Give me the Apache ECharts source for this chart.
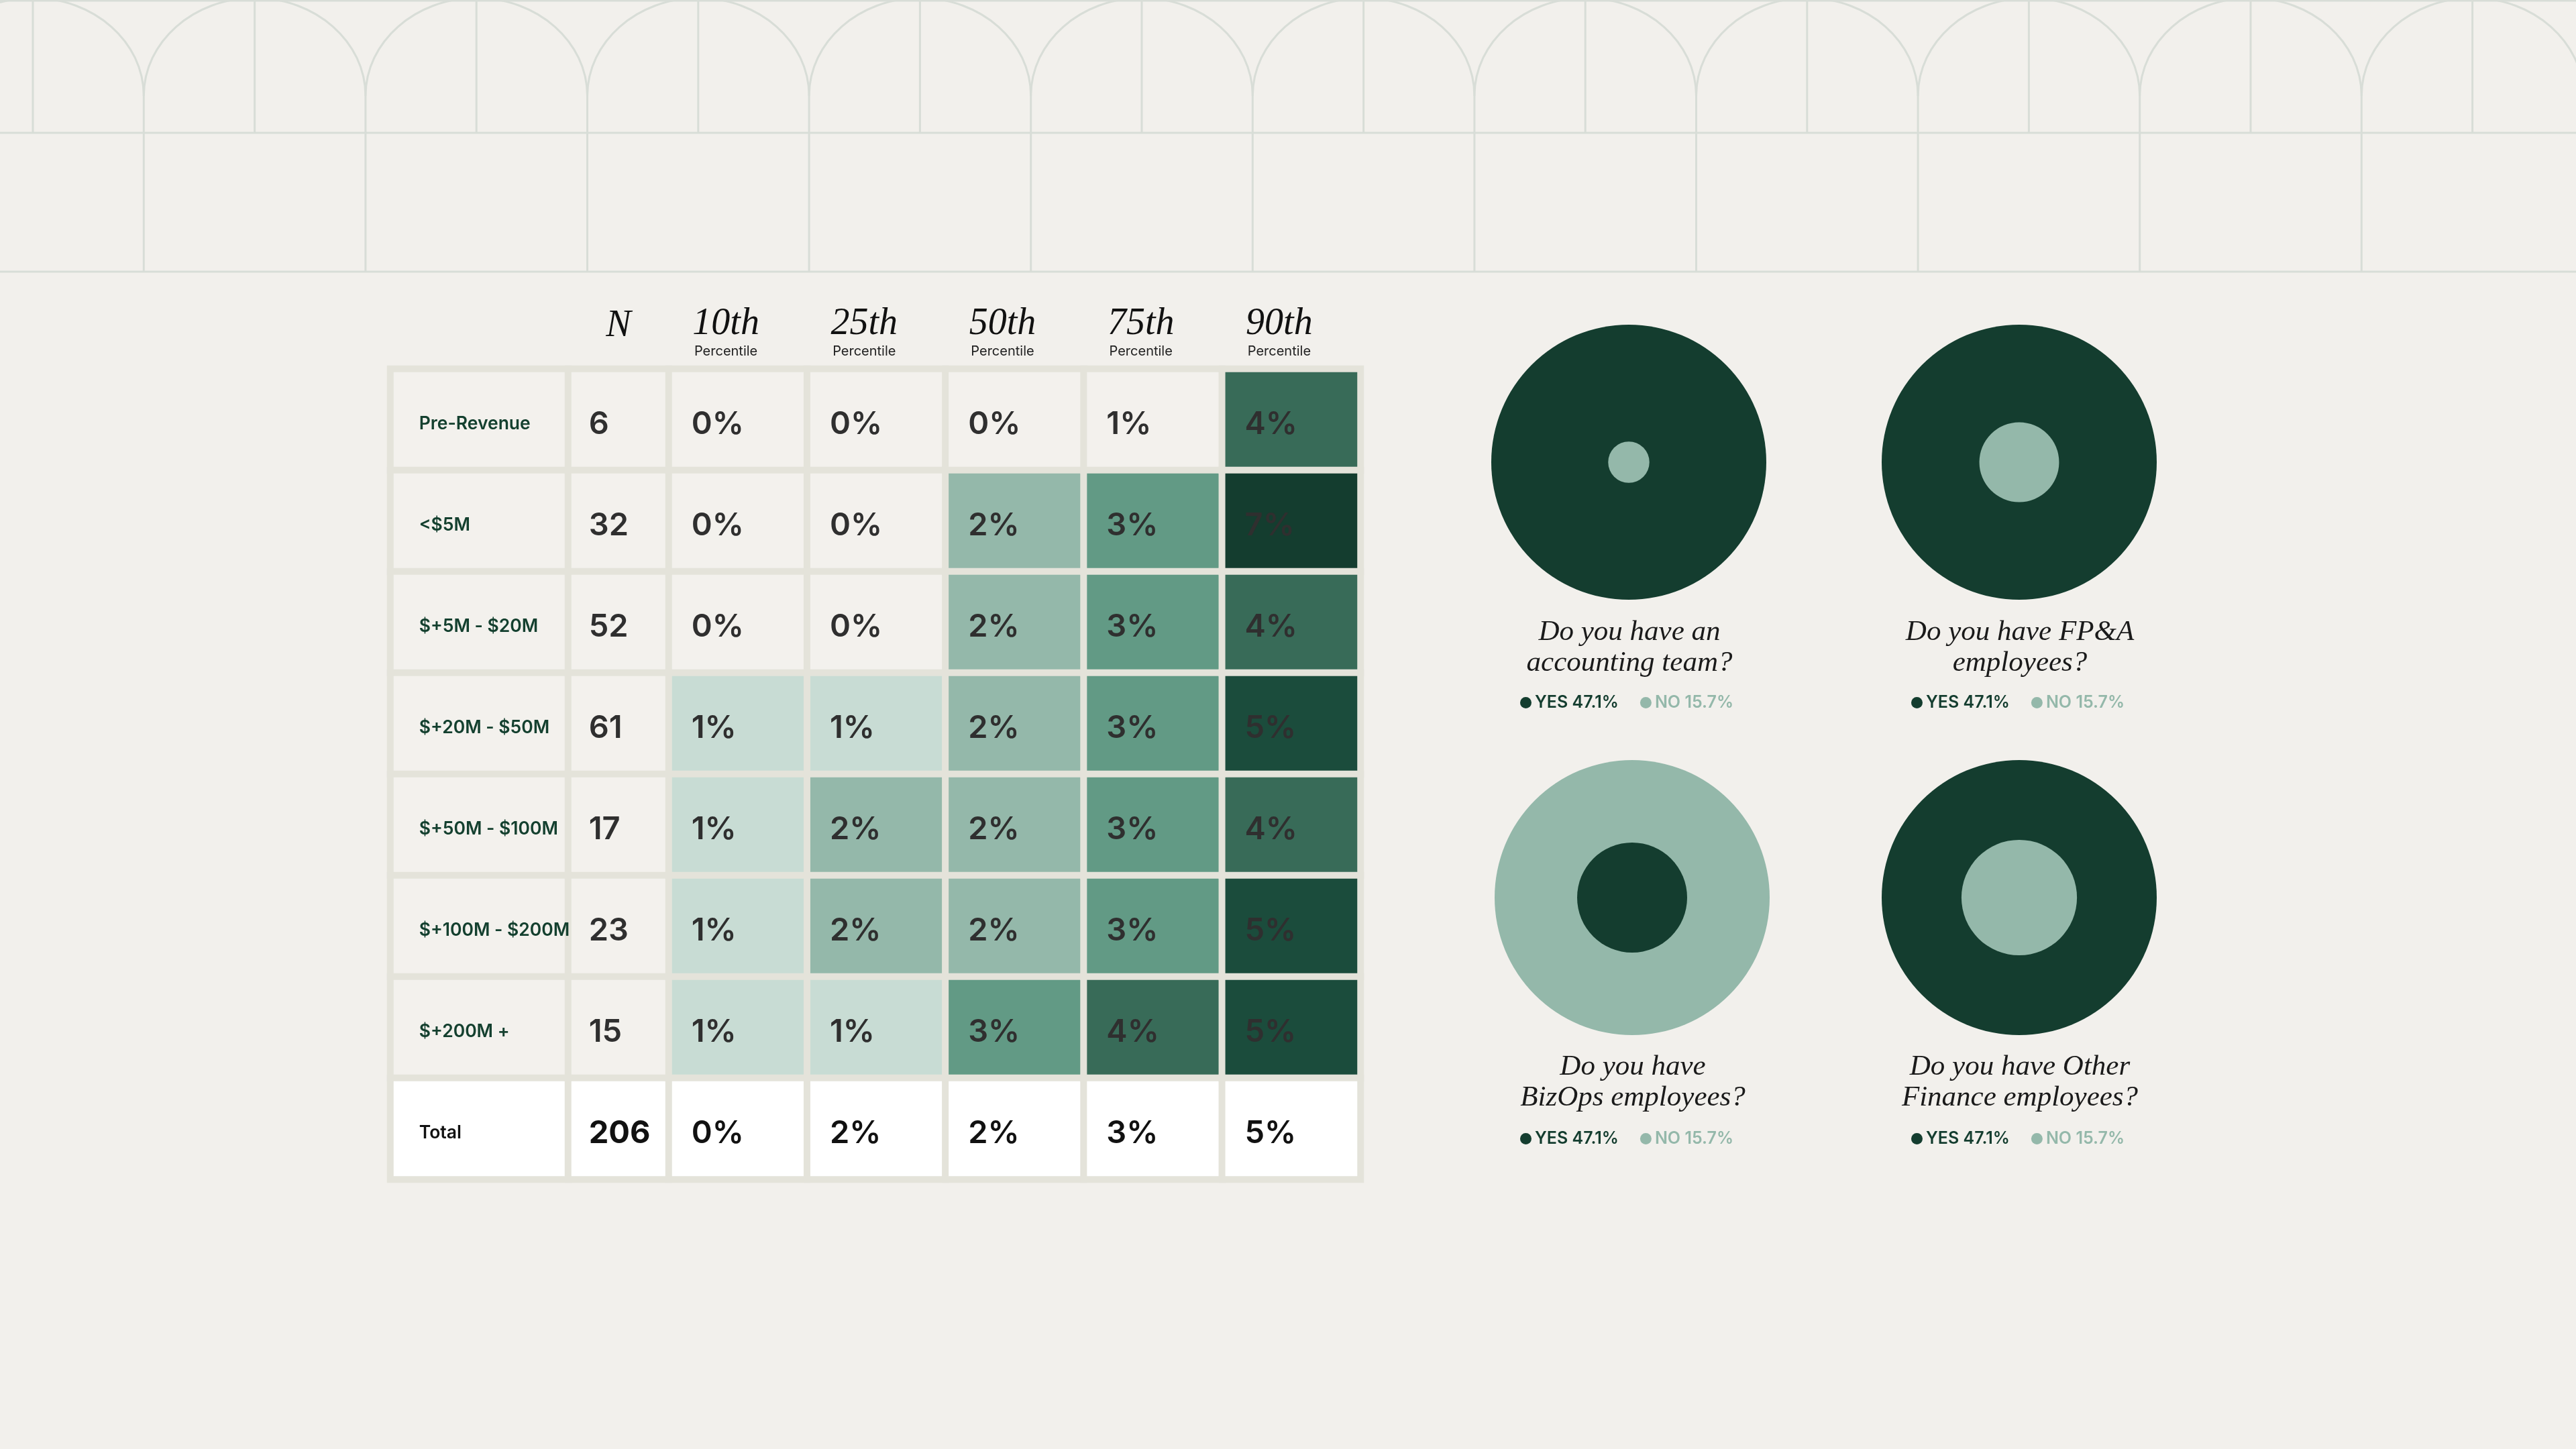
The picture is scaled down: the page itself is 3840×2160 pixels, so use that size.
<!DOCTYPE html>
<html><head><meta charset="utf-8">
<script src="https://cdn.jsdelivr.net/npm/echarts@6/dist/echarts.min.js"></script>
<style>html,body{margin:0;padding:0;background:#f2f0ec}#c{width:3840px;height:2160px}</style>
</head><body><div id="c"></div>
<script>
// ---------- data ----------
const rowLabels = ['Pre-Revenue', '<$5M', '$+5M - $20M', '$+20M - $50M', '$+50M - $100M', '$+100M - $200M', '$+200M +', 'Total'];
const nValues = [6, 32, 52, 61, 17, 23, 15, 206];
const percentileHeaders = ['10th', '25th', '50th', '75th', '90th'];
const p10 = [0, 0, 0, 1, 1, 1, 1, 0];
const p25 = [0, 0, 0, 1, 2, 2, 1, 2];
const p50 = [0, 2, 2, 2, 2, 2, 3, 2];
const p75 = [1, 3, 3, 3, 3, 3, 4, 3];
const p90 = [4, 7, 4, 5, 4, 5, 5, 5];
// shade level of each cell (-1 = white total row)
const shade10 = [0, 0, 0, 1, 1, 1, 1, -1];
const shade25 = [0, 0, 0, 1, 2, 2, 1, -1];
const shade50 = [0, 2, 2, 2, 2, 2, 3, -1];
const shade75 = [0, 3, 3, 3, 3, 3, 4, -1];
const shade90 = [4, 6, 4, 5, 4, 5, 5, -1];

const questions = ['Do you have an\naccounting team?', 'Do you have FP&A\nemployees?', 'Do you have\nBizOps employees?', 'Do you have Other\nFinance employees?'];
const yesPct = [47.1, 47.1, 47.1, 47.1];
const noPct = [15.7, 15.7, 15.7, 15.7];
const innerRadiusPct = [15, 29, 40, 42];
const outerAnswer = ['YES', 'YES', 'NO', 'YES'];

// ---------- style ----------
const BG = '#f2f0ec', GAP = '#e4e3da', LINE = '#d8ddd7';
const DARK = '#143d2f', LIGHT = '#94b8aa';
const SANS = 'Inter', SERIF = 'Liberation Serif';
const shadeColors = ['#ffffff', '#f3f1ed', '#c8dcd4', '#94b8aa', '#629a85', '#386b58', '#1b4c3c', '#143d2f'];

const chart = echarts.init(document.getElementById('c'), null, {renderer: 'canvas', devicePixelRatio: 1});

const totalIdx = rowLabels.length - 1;
const pctCols = [p10, p25, p50, p75, p90];
const shadeCols = [shade10, shade25, shade50, shade75, shade90];

const labelData = rowLabels.map((l, r) => ({
  value: [0, r, 0, r === totalIdx ? -1 : 0],
  label: r === totalIdx ? {color: '#111'} : {}
}));
const nData = nValues.map((n, r) => ({
  value: [0, r, n, r === totalIdx ? -1 : 0],
  label: r === totalIdx ? {color: '#111', fontWeight: 700} : {}
}));
const pctData = [];
pctCols.forEach((col, c) => col.forEach((v, r) => {
  pctData.push({value: [c, r, v, shadeCols[c][r]], label: r === totalIdx ? {color: '#111'} : {}});
}));

// ---------- decorative header pattern ----------
const G = [];
G.push({type: 'rect', z: 0, silent: true, shape: {x: 577, y: 545, width: 1451, height: 1214}, style: {fill: GAP}});
[1, 198, 405].forEach(y => G.push({type: 'line', silent: true, shape: {x1: 0, y1: y, x2: 3840, y2: y}, style: {stroke: LINE, lineWidth: 3}}));
const P = 330.6, H = 165.3, baseY = 143, ry = 146, K = 0.5523;
for (let k = 0; k < 12; k++) {
  const sx = 49 + P * k;
  G.push({type: 'line', silent: true, shape: {x1: sx, y1: 0, x2: sx, y2: 198}, style: {stroke: LINE, lineWidth: 3}});
  G.push({type: 'bezierCurve', silent: true, shape: {x1: sx - H, y1: baseY, cpx1: sx - H, cpy1: baseY - K * ry, cpx2: sx - K * H, cpy2: baseY - ry, x2: sx, y2: baseY - ry}, style: {stroke: LINE, lineWidth: 3, fill: null}});
  G.push({type: 'bezierCurve', silent: true, shape: {x1: sx + H, y1: baseY, cpx1: sx + H, cpy1: baseY - K * ry, cpx2: sx + K * H, cpy2: baseY - ry, x2: sx, y2: baseY - ry}, style: {stroke: LINE, lineWidth: 3, fill: null}});
  G.push({type: 'line', silent: true, shape: {x1: sx + H, y1: baseY, x2: sx + H, y2: 405}, style: {stroke: LINE, lineWidth: 3}});
}

// ---------- donut layout ----------
const centers = [[2428, 689], [3010, 689], [2433, 1338], [3010, 1338]];
const titleTops = [915, 915, 1563, 1563];
const legendPos = [[2261, 1030], [2844, 1030], [2261, 1680], [2844, 1680]];

const polar = [], angleAxis = [], radiusAxis = [], donutSeries = [], titles = [], legends = [];
centers.forEach((c, i) => {
  polar.push({center: c, radius: 205});
  angleAxis.push({polarIndex: i, type: 'category', data: ['q'], startAngle: 90, show: false});
  radiusAxis.push({polarIndex: i, type: 'value', min: 0, max: 100, show: false});
  const outer = outerAnswer[i], inner = outer === 'YES' ? 'NO' : 'YES';
  donutSeries.push({type: 'bar', name: outer, coordinateSystem: 'polar', polarIndex: i, data: [100],
    barCategoryGap: '0%', silent: true, itemStyle: {color: outer === 'YES' ? DARK : LIGHT}});
  donutSeries.push({type: 'bar', name: inner, coordinateSystem: 'polar', polarIndex: i, data: [innerRadiusPct[i]],
    barGap: '-100%', barCategoryGap: '0%', silent: true, itemStyle: {color: inner === 'YES' ? DARK : LIGHT}});
  titles.push({text: questions[i], left: c[0] - 4, top: titleTops[i], textAlign: 'center',
    textStyle: {fontFamily: SERIF, fontStyle: 'italic', fontWeight: 'normal', fontSize: 43, lineHeight: 46, color: '#1a1a1a'}});
  legends.push({left: legendPos[i][0], top: legendPos[i][1], orient: 'horizontal', icon: 'circle',
    itemWidth: 17, itemHeight: 17, itemGap: 32, selectedMode: false,
    data: [{name: 'YES', textStyle: {color: DARK}}, {name: 'NO', textStyle: {color: LIGHT}}],
    formatter: name => name + ' ' + (name === 'YES' ? yesPct[i] : noPct[i]).toFixed(1) + '%',
    textStyle: {fontFamily: SANS, fontWeight: 600, fontSize: 25}});
});

const cellLabel = {show: true, position: 'insideLeft', offset: [0, 7], fontFamily: SANS, fontWeight: 600, fontSize: 47, color: '#2f2f2f'};

const option = {
  backgroundColor: BG,
  animation: false,
  graphic: {elements: G},
  title: titles,
  legend: legends,
  polar: polar,
  angleAxis: angleAxis,
  radiusAxis: radiusAxis,
  grid: [
    {left: 582, top: 550, width: 265, height: 1208},
    {left: 847, top: 550, width: 150, height: 1208},
    {left: 997, top: 550, width: 1031, height: 1208}
  ],
  xAxis: [
    {gridIndex: 0, type: 'category', data: [''], show: false},
    {gridIndex: 1, type: 'category', data: ['N'], position: 'top', axisLine: {show: false}, axisTick: {show: false},
      axisLabel: {margin: 36, formatter: '{a|{value}}', rich: {a: {fontFamily: SERIF, fontStyle: 'italic', fontSize: 56, lineHeight: 56, color: '#111'}}}},
    {gridIndex: 2, type: 'category', data: percentileHeaders, position: 'top', axisLine: {show: false}, axisTick: {show: false},
      axisLabel: {margin: 13, padding: [0, 36, 0, 0], formatter: '{a|{value}}\n{b|Percentile}', rich: {
        a: {fontFamily: SERIF, fontStyle: 'italic', fontSize: 56, lineHeight: 56, color: '#111', align: 'center'},
        b: {fontFamily: SANS, fontSize: 20, lineHeight: 26, color: '#222', align: 'center'}}}}
  ],
  yAxis: [0, 1, 2].map(g => ({gridIndex: g, type: 'category', data: rowLabels, inverse: true, show: false})),
  visualMap: {type: 'piecewise', show: false, dimension: 3, seriesIndex: [0, 1, 2],
    pieces: shadeColors.map((col, k) => ({value: k - 1, color: col}))},
  series: [
    {type: 'heatmap', xAxisIndex: 0, yAxisIndex: 0, data: labelData, silent: true,
      itemStyle: {borderColor: GAP, borderWidth: 10},
      label: {show: true, position: 'insideLeft', distance: 48, offset: [0, 7], fontFamily: SANS, fontWeight: 600, fontSize: 26.5, color: '#14402f',
        formatter: p => rowLabels[p.value[1]]}},
    {type: 'heatmap', xAxisIndex: 1, yAxisIndex: 1, data: nData, silent: true,
      itemStyle: {borderColor: GAP, borderWidth: 10},
      label: Object.assign({}, cellLabel, {distance: 36, formatter: p => String(p.value[2])})},
    {type: 'heatmap', xAxisIndex: 2, yAxisIndex: 2, data: pctData, silent: true,
      itemStyle: {borderColor: GAP, borderWidth: 10},
      label: Object.assign({}, cellLabel, {distance: 39, formatter: p => p.value[2] + '%'})}
  ].concat(donutSeries)
};
chart.setOption(option);
</script></body></html>
